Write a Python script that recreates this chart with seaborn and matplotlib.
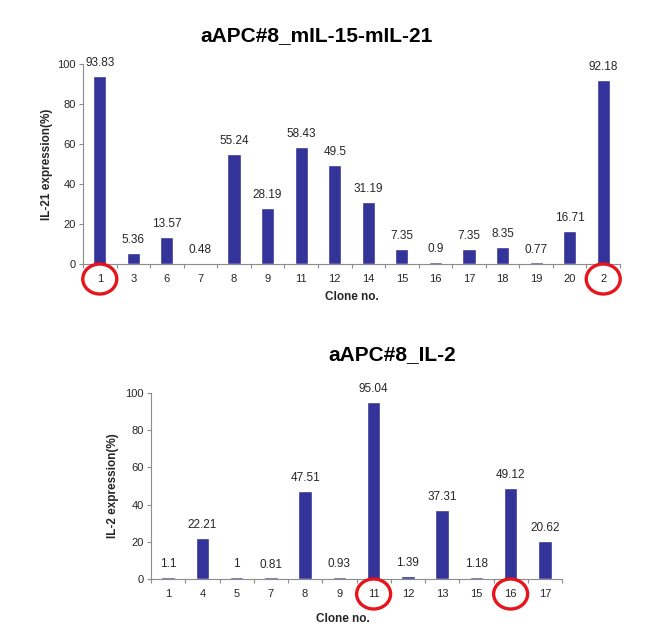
import matplotlib
matplotlib.use("Agg")
import matplotlib.pyplot as plt
import seaborn as sns
import pandas as pd
from matplotlib.patches import Ellipse

top_clones = ['1', '3', '6', '7', '8', '9', '11', '12', '14', '15', '16', '17', '18', '19', '20', '2']
top_values = [93.83, 5.36, 13.57, 0.48, 55.24, 28.19, 58.43, 49.5, 31.19, 7.35, 0.9, 7.35, 8.35, 0.77, 16.71, 92.18]
top_labels = ['93.83', '5.36', '13.57', '0.48', '55.24', '28.19', '58.43', '49.5', '31.19', '7.35', '0.9', '7.35', '8.35', '0.77', '16.71', '92.18']
top_circled = ['1', '2']

bot_clones = ['1', '4', '5', '7', '8', '9', '11', '12', '13', '15', '16', '17']
bot_values = [1.1, 22.21, 1, 0.81, 47.51, 0.93, 95.04, 1.39, 37.31, 1.18, 49.12, 20.62]
bot_labels = ['1.1', '22.21', '1', '0.81', '47.51', '0.93', '95.04', '1.39', '37.31', '1.18', '49.12', '20.62']
bot_circled = ['11', '16']

sns.set_theme(style="white")
plt.rcParams['font.family'] = ['Liberation Sans', 'DejaVu Sans']

BAR = '#333399'
TXT = '#262626'
SPINE = '#8c8c8c'

W, H = 651, 636
fig = plt.figure(figsize=(W / 100, H / 100), dpi=100)

def px_rect(left, right, top, bottom):
    return [left / W, 1 - bottom / H, (right - left) / W, (bottom - top) / H]

def draw(ax, clones, values, labels, ylabel, ypad):
    df = pd.DataFrame({'clone': clones, 'value': values})
    sns.barplot(data=df, x='clone', y='value', order=clones, color=BAR,
                saturation=1, width=0.39, ax=ax, errorbar=None)
    ax.bar_label(ax.containers[0], labels=labels, padding=5, fontsize=8.5, color=TXT)
    ax.set_ylim(0, 100)
    ax.set_xlim(-0.5, len(clones) - 0.5)
    ax.set_yticks([0, 20, 40, 60, 80, 100])
    ax.tick_params(axis='y', labelsize=8, colors=TXT, length=3, width=0.8,
                   direction='out', left=True, color=SPINE, pad=2)
    ax.tick_params(axis='x', which='major', labelsize=8, colors=TXT, length=0, pad=7)
    ax.set_xticks([i + 0.5 for i in range(-1, len(clones))], minor=True)
    ax.tick_params(axis='x', which='minor', length=3, width=0.8, color=SPINE,
                   direction='out', bottom=True)
    for s in ['top', 'right']:
        ax.spines[s].set_visible(False)
    for s in ['left', 'bottom']:
        ax.spines[s].set_color(SPINE)
        ax.spines[s].set_linewidth(0.8)
    ax.set_ylabel(ylabel, fontsize=8.5, fontweight='bold', color=TXT, labelpad=ypad)
    ax.set_xlabel('')

ax1 = fig.add_axes(px_rect(83, 620, 64, 264))
draw(ax1, top_clones, top_values, top_labels, 'IL-21 expression(%)', 3)
ax2 = fig.add_axes(px_rect(151, 562, 393, 579))
draw(ax2, bot_clones, bot_values, bot_labels, 'IL-2 expression(%)', 5)

fig.text(317 / W, 1 - 36 / H, 'aAPC#8_mIL-15-mIL-21', fontsize=15, fontweight='bold',
         ha='center', va='center', color='black')
fig.text(392 / W, 1 - 355 / H, 'aAPC#8_IL-2', fontsize=15, fontweight='bold',
         ha='center', va='center', color='black')
fig.text(352 / W, 1 - 297 / H, 'Clone no.', fontsize=8.5, fontweight='bold',
         ha='center', va='center', color=TXT)
fig.text(343 / W, 1 - 619 / H, 'Clone no.', fontsize=8.5, fontweight='bold',
         ha='center', va='center', color=TXT)

fig.canvas.draw()

def circles(ax, clones, circled):
    for c in circled:
        i = clones.index(c)
        x, y = ax.transData.transform((i, 0))
        e = Ellipse((x, y - 15), 34, 30, transform=None, fill=False,
                    edgecolor='#e8141c', linewidth=2.4)
        fig.patches.append(e)
        e.set_figure(fig)

circles(ax1, top_clones, top_circled)
circles(ax2, bot_clones, bot_circled)

fig.savefig('out.png', dpi=100)
